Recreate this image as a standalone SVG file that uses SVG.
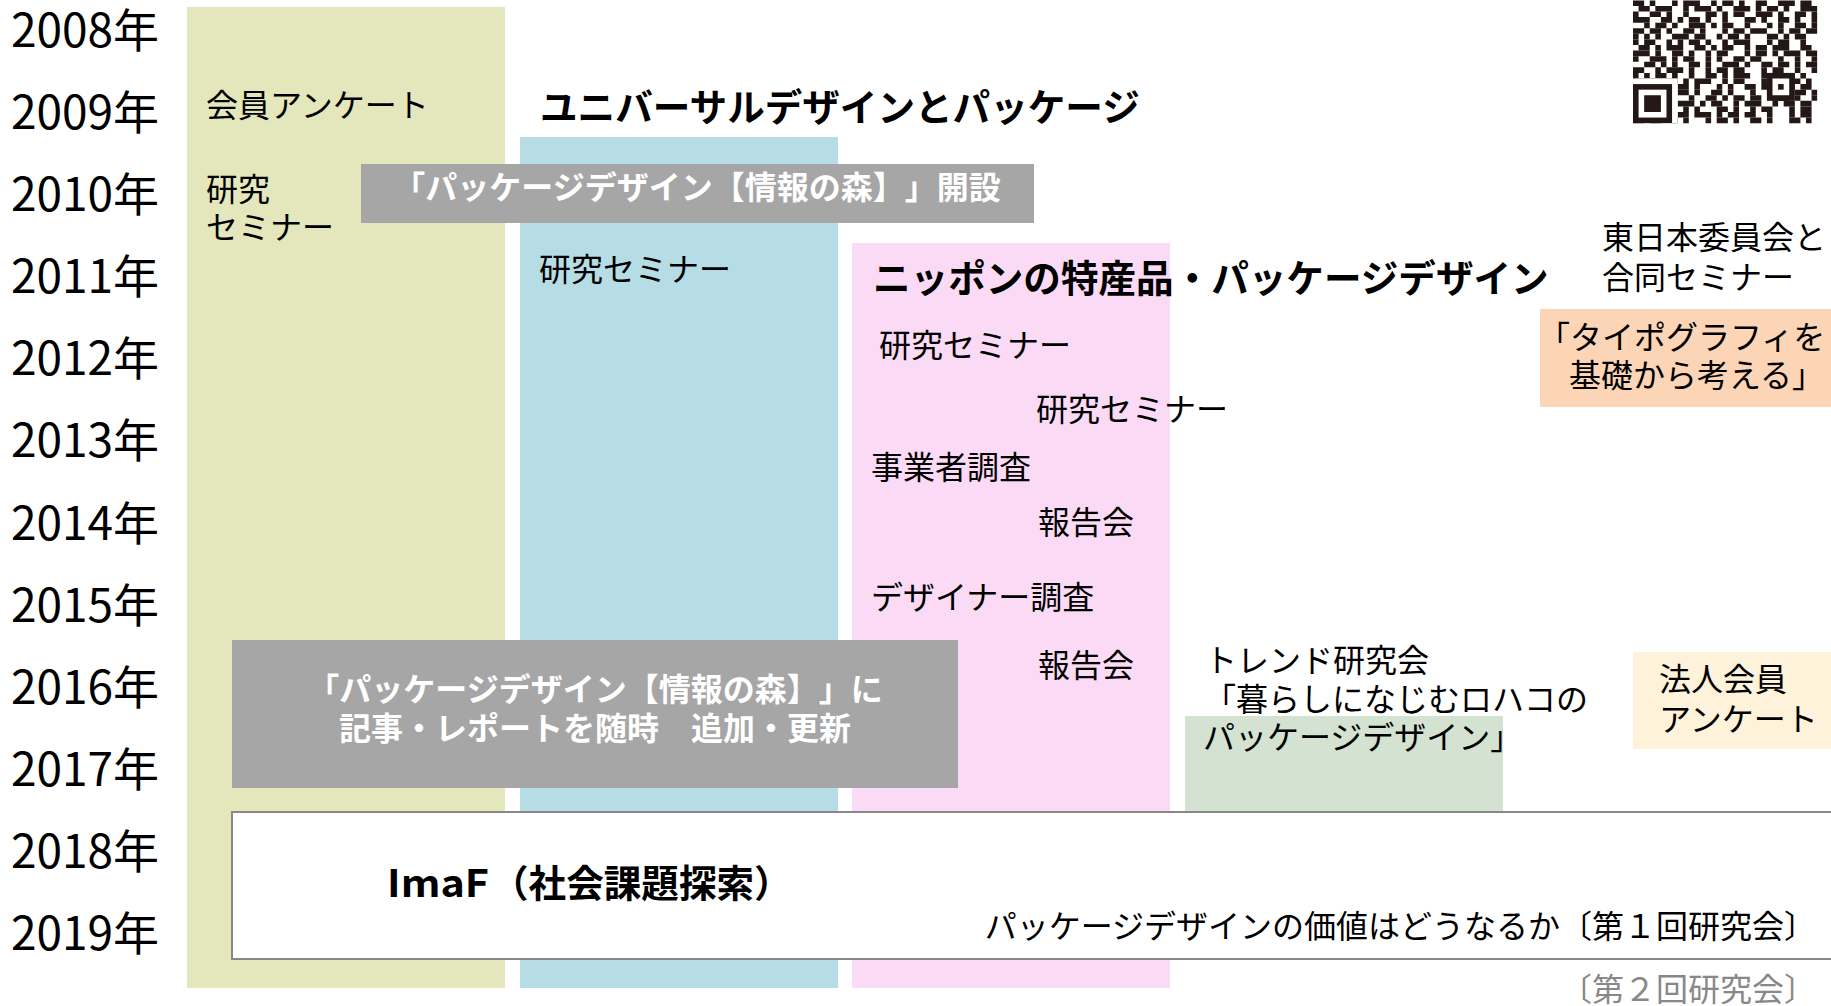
<svg xmlns="http://www.w3.org/2000/svg" width="1831" height="1006" viewBox="0 0 1831 1006">
<style>
text{font-family:"Noto Sans CJK JP","Noto Sans CJK SC",sans-serif;fill:#000;text-spacing-trim:space-all;}
.yr{font-size:46px;}
.t{font-size:32px;}
.b{font-size:37.6px;font-weight:700;}
.w{font-size:32px;font-weight:700;fill:#fff;}
.qr line{stroke:#231815;stroke-width:1;}
</style>
<rect width="1831" height="1006" fill="#fff"/>
<g id="years">
<text class="yr" x="11" y="47">2008年</text>
<text class="yr" x="11" y="129">2009年</text>
<text class="yr" x="11" y="211">2010年</text>
<text class="yr" x="11" y="293">2011年</text>
<text class="yr" x="11" y="375">2012年</text>
<text class="yr" x="11" y="457">2013年</text>
<text class="yr" x="11" y="540">2014年</text>
<text class="yr" x="11" y="622">2015年</text>
<text class="yr" x="11" y="704">2016年</text>
<text class="yr" x="11" y="786">2017年</text>
<text class="yr" x="11" y="868">2018年</text>
<text class="yr" x="11" y="950">2019年</text>
</g>
<g id="col-member">
<rect x="187" y="7" width="318" height="981" fill="#E4E7BB"/>
<text class="t" x="206" y="117">会員アンケート</text>
<text class="t" x="206" y="201">研究</text>
<text class="t" x="206" y="239">セミナー</text>
</g>
<g id="col-universal">
<rect x="520" y="137" width="318" height="851" fill="#B6DDE6"/>
<text class="b" x="540" y="121">ユニバーサルデザインとパッケージ</text>
<text class="t" x="539" y="281">研究セミナー</text>
</g>
<g id="col-nippon">
<rect x="852" y="243" width="318" height="745" fill="#FADAF4"/>
<text class="b" x="873" y="292">ニッポンの特産品・パッケージデザイン</text>
<text class="t" x="879" y="357">研究セミナー</text>
<text class="t" x="1036" y="421">研究セミナー</text>
<text class="t" x="871" y="479">事業者調査</text>
<text class="t" x="1038" y="534">報告会</text>
<text class="t" x="871" y="609">デザイナー調査</text>
<text class="t" x="1038" y="677">報告会</text>
</g>
<g id="forest-open">
<rect x="361" y="164" width="673" height="59" fill="#A6A6A6"/>
<text class="w" x="697" y="199" text-anchor="middle">「パッケージデザイン【情報の森】」開設</text>
</g>
<g id="forest-update">
<rect x="232" y="640" width="726" height="148" fill="#A6A6A6"/>
<text class="w" x="595" y="701" text-anchor="middle">「パッケージデザイン【情報の森】」に</text>
<text class="w" x="595" y="740" text-anchor="middle">記事・レポートを随時　追加・更新</text>
</g>
<g id="east-seminar">
<text class="t" x="1602" y="249">東日本委員会と</text>
<text class="t" x="1602" y="289">合同セミナー</text>
</g>
<g id="typography">
<rect x="1540" y="309" width="291" height="98" fill="#FBD5B5"/>
<text class="t" x="1538" y="349">「タイポグラフィを</text>
<text class="t" x="1569" y="387">基礎から考える」</text>
</g>
<g id="trend">
<rect x="1185" y="716" width="318" height="96" fill="#D3E2D1"/>
<text class="t" x="1205" y="672">トレンド研究会</text>
<text class="t" x="1204" y="711">「暮らしになじむロハコの</text>
<text class="t" x="1203" y="749">パッケージデザイン」</text>
</g>
<g id="corp-survey">
<rect x="1633" y="652" width="198" height="97" fill="#FEF2DA"/>
<text class="t" x="1659" y="691">法人会員</text>
<text class="t" x="1659" y="731">アンケート</text>
</g>
<g id="imaf">
<rect x="232" y="812" width="1610" height="147" fill="#fff" stroke="#888" stroke-width="2"/>
<text class="b" x="387" y="897"><tspan textLength="102" lengthAdjust="spacingAndGlyphs">ImaF</tspan><tspan x="491">（社会課題探索）</tspan></text>
<text class="t" x="1816" y="938" text-anchor="end">パッケージデザインの価値はどうなるか〔第１回研究会〕</text>
<text class="t" x="1816" y="1001" text-anchor="end" style="fill:#888">〔第２回研究会〕</text>
</g>
<g id="qr" class="qr" transform="translate(1633,-61) scale(5.58)">
<line x1="0" x2="33" y1="11.5" y2="11.5" stroke-dasharray="2 1 1 3 1 1 3 2 1 1 2 1 1 2 2 2 3 1 2 1"/>
<line x1="0" x2="33" y1="12.5" y2="12.5" stroke-dasharray="0 1 2 1 3 2 1 1 3 1 1 2 3 1 1 1 2 1 1 2 3 0"/>
<line x1="0" x2="33" y1="13.5" y2="13.5" stroke-dasharray="1 2 2 1 1 2 1 3 2 1 1 1 2 2 3 1 1 2 2 1 1 0"/>
<line x1="0" x2="33" y1="14.5" y2="14.5" stroke-dasharray="3 2 2 1 1 1 2 1 1 2 1 3 2 1 1 2 2 1 1 2 1 0"/>
<line x1="0" x2="33" y1="15.5" y2="15.5" stroke-dasharray="0 2 1 1 2 1 1 2 3 1 1 1 2 2 1 3 1 1 1 2 2 1 1 0"/>
<line x1="0" x2="33" y1="16.5" y2="16.5" stroke-dasharray="2 1 2 1 1 2 2 1 1 3 1 1 2 1 3 2 1 1 2 1 2 0"/>
<line x1="0" x2="33" y1="17.5" y2="17.5" stroke-dasharray="1 1 1 1 1 2 3 1 2 2 1 1 2 1 1 3 2 1 1 1 2 2"/>
<line x1="0" x2="33" y1="18.5" y2="18.5" stroke-dasharray="1 1 2 2 1 1 1 1 2 1 1 2 1 1 3 3 1 1 2 2 1 2"/>
<line x1="0" x2="33" y1="19.5" y2="19.5" stroke-dasharray="0 1 2 1 1 1 3 2 2 1 1 1 2 2 1 1 2 1 3 2 2 1"/>
<line x1="0" x2="33" y1="20.5" y2="20.5" stroke-dasharray="3 1 1 2 2 1 1 2 1 1 2 3 1 1 2 1 1 1 3 1 2 0"/>
<line x1="0" x2="33" y1="21.5" y2="21.5" stroke-dasharray="1 2 3 1 1 1 2 2 1 1 1 2 2 1 2 3 1 2 1 2 1 0"/>
<line x1="0" x2="33" y1="22.5" y2="22.5" stroke-dasharray="0 2 2 1 1 1 1 2 2 1 1 2 3 1 1 2 2 1 2 1 1 1 2 0"/>
<line x1="0" x2="33" y1="23.5" y2="23.5" stroke-dasharray="2 2 1 1 3 1 1 2 1 1 2 1 2 3 1 1 2 2 1 2 1 0"/>
<line x1="0" x2="33" y1="24.5" y2="24.5" stroke-dasharray="1 1 1 1 2 1 1 2 1 2 2 1 1 1 3 2 2 1 3 1 1 2"/>
<line x1="0" x2="33" y1="25.5" y2="25.5" stroke-dasharray="2 1 1 2 2 1 1 1 3 2 1 1 2 3 1 2 1 1 2 1 1 1"/>
<line x1="0" x2="33" y1="26.5" y2="26.5" stroke-dasharray="1 1 1 2 2 1 2 1 1 3 1 1 1 2 2 1 2 3 1 1 2 1"/>
<line x1="0" x2="33" y1="27.5" y2="27.5" stroke-dasharray="0 1 3 2 1 1 2 1 1 2 2 1 1 3 1 2 2 1 1 1 2 1 1 0"/>
<line x1="0" x2="33" y1="28.5" y2="28.5" stroke-dasharray="2 2 1 1 1 3 1 2 2 1 1 1 2 1 2 2 3 1 1 2 1 0"/>
<line x1="0" x2="33" y1="29.5" y2="29.5" stroke-dasharray="1 1 2 1 1 2 3 1 1 1 2 2 1 1 3 2 1 1 2 1 2 1"/>
<line x1="0" x2="33" y1="30.5" y2="30.5" stroke-dasharray="2 1 1 1 2 2 1 1 1 3 2 1 1 2 1 1 2 3 1 1 2 1"/>
<line x1="0" x2="33" y1="31.5" y2="31.5" stroke-dasharray="1 2 1 1 1 2 2 1 3 1 1 1 2 1 2 2 1 3 1 1 2 1"/>
<line x1="0" x2="33" y1="32.5" y2="32.5" stroke-dasharray="2 1 2 2 1 1 1 3 1 1 2 1 1 2 2 1 1 3 2 1 1 1"/>
<rect x="0" y="25" width="8" height="8" fill="#fff"/>
<rect x="0" y="26" width="7" height="7" fill="#231815"/>
<rect x="1" y="27" width="5" height="5" fill="#fff"/>
<rect x="2" y="28" width="3" height="3" fill="#231815"/>
<rect x="24" y="24" width="5" height="5" fill="#231815"/>
<rect x="25" y="25" width="3" height="3" fill="#fff"/>
<rect x="26" y="26" width="1" height="1" fill="#231815"/>
</g>
<g id="connectors"/>
</svg>
